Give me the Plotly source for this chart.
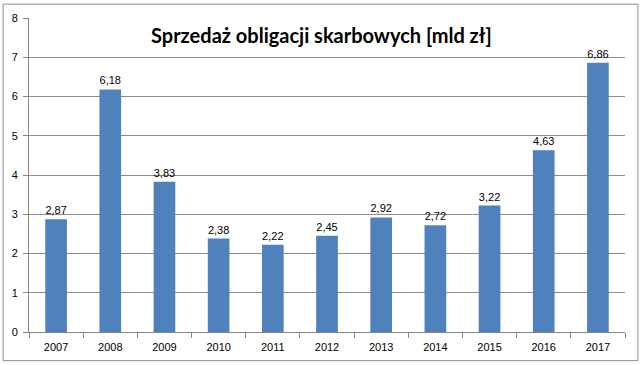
import plotly.graph_objects as go

years = ["2007", "2008", "2009", "2010", "2011", "2012", "2013", "2014", "2015", "2016", "2017"]
values = [2.87, 6.18, 3.83, 2.38, 2.22, 2.45, 2.92, 2.72, 3.22, 4.63, 6.86]
y_ticks = [0, 1, 2, 3, 4, 5, 6, 7, 8]

W, H = 640, 365
L, R, T, B = 27, 15, 15, 32
pw, ph = W - L - R, H - T - B

fig = go.Figure(go.Bar(
    x=years, y=values,
    marker=dict(color="#4F81BD", line=dict(width=0)),
    texttemplate="%{y:.2f}", textposition="outside",
    textfont=dict(family="Liberation Sans", size=11, color="#000000"),
    cliponaxis=False,
    width=0.4,
))

fig.update_layout(
    width=W, height=H,
    margin=dict(l=L, r=R, t=T, b=B),
    paper_bgcolor="white", plot_bgcolor="white",
    separators=", ",
    showlegend=False,
    xaxis=dict(
        type="category", showgrid=False, showline=True, linecolor="#868686",
        ticks="outside", tickson="boundaries", ticklen=5, tickcolor="#868686",
        ticklabelstandoff=5,
        tickfont=dict(family="Liberation Sans", size=11, color="#000000"),
    ),
    yaxis=dict(
        range=[0, 8], tickvals=y_ticks, showgrid=True, gridcolor="#8c8c8c",
        showline=True, linecolor="#868686", ticks="outside", ticklen=5,
        tickcolor="#868686", zeroline=False, ticklabelstandoff=3,
        tickfont=dict(family="Liberation Sans", size=11, color="#000000"),
    ),
    annotations=[dict(
        text="<b>Sprzedaż obligacji skarbowych [mld zł]</b>",
        xref="paper", yref="paper", x=(320 - L) / pw, y=(H - B - 32) / ph,
        showarrow=False, xanchor="center", yanchor="middle",
        font=dict(family="Lato", size=20, color="#000000"),
        bgcolor="white",
    )],
    shapes=[dict(
        type="rect", xref="paper", yref="paper",
        x0=(1 - L) / pw, x1=(638 - L) / pw,
        y0=(H - B - 362) / ph, y1=(H - B - 1) / ph,
        line=dict(color="#909090", width=1), fillcolor="rgba(0,0,0,0)",
    )],
)

fig.write_html("out.html", config={"displayModeBar": False},
               post_script="document.body.style.margin='0';document.body.style.overflow='hidden';")
